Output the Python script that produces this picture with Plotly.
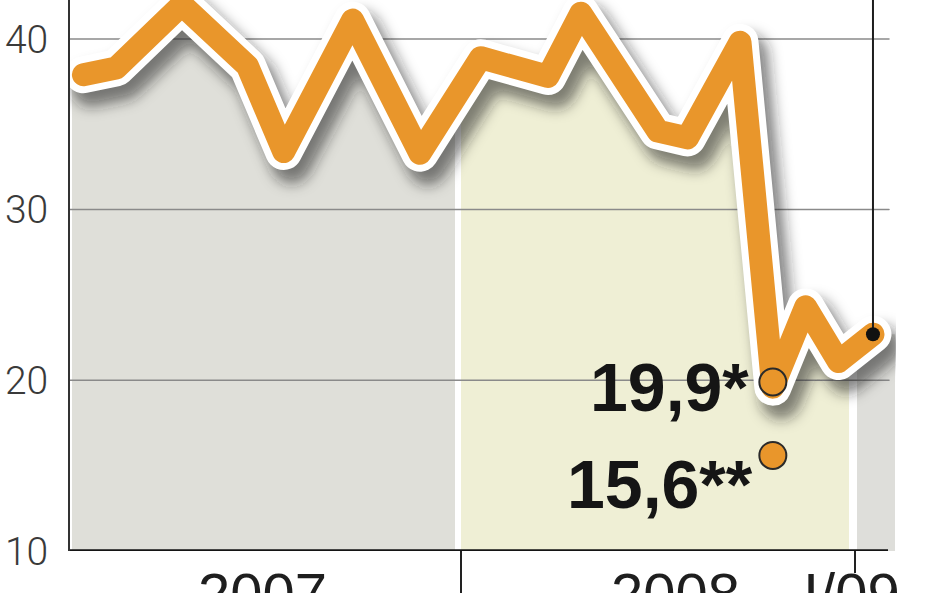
import numpy as np
import plotly.graph_objects as go

# ---- data ----
months = [0.5, 1.5, 3.5, 5.5, 6.6, 8.7, 10.75, 12.6, 14.65, 15.65, 18.0, 18.9, 20.5, 21.5, 22.5, 23.5, 24.55]
values = [37.9, 38.3, 42.0, 38.4, 33.4, 41.1, 33.3, 38.9, 37.8, 41.5, 34.6, 34.2, 39.8, 19.6, 24.3, 21.1, 22.7]
forecast_values = [19.9, 15.6]
forecast_labels = ["19,9*", "15,6**"]
year_labels = ["2007", "2008", "I/09"]
y_ticks = [10, 20, 30, 40]

# ---- geometry helpers (pixel -> axis units) ----
W, H = 948, 593
PL, PR, PT, PB = 70, 896, 0, 551
PX_PER_MONTH = 32.83
M0 = 67
PX_PER_UNIT = 17.07


def mx(px):
    return (px - M0) / PX_PER_MONTH


def vy(py):
    return 10 + (PB - py) / PX_PER_UNIT


x_range = [mx(PL), mx(PR)]
y_range = [10, vy(PT)]

ORANGE = "#E9962B"
xs = np.array(months)
ys = np.array(values)

fig = go.Figure()

# year area fills under the line
bounds = [(mx(72), mx(455)), (mx(461), mx(849)), (mx(857), mx(895))]
fill_colors = ["#DFDFD9", "#EFEFD5", "#DEDEDA"]
for (a, b), c in zip(bounds, fill_colors):
    inner = xs[(xs > a) & (xs < b)]
    fx = np.concatenate([[a], inner, [b]])
    fy = np.interp(fx, xs, ys)
    fig.add_trace(go.Scatter(x=fx, y=fy, fill="tozeroy", fillcolor=c, mode="none",
                             hoverinfo="skip", showlegend=False))

# gridlines
for v in y_ticks[1:]:
    fig.add_trace(go.Scatter(x=[mx(70), mx(889)], y=[v, v], mode="lines",
                             line=dict(color="#8a8a8a", width=1.5),
                             hoverinfo="skip", showlegend=False))

# shadow, white outline, orange line
fig.add_trace(go.Scatter(x=xs + 8 / PX_PER_MONTH, y=ys - 12 / PX_PER_UNIT, mode="lines",
                         line=dict(color="rgba(30,30,30,0.55)", width=40),
                         hoverinfo="skip", showlegend=False))
fig.add_trace(go.Scatter(x=xs, y=ys, mode="lines", line=dict(color="white", width=37),
                         hoverinfo="skip", showlegend=False))
fig.add_trace(go.Scatter(x=xs, y=ys, mode="lines", line=dict(color=ORANGE, width=23),
                         hoverinfo="skip", showlegend=False))

# leader line from the last point to top
fig.add_trace(go.Scatter(x=[xs[-1], xs[-1]], y=[ys[-1], y_range[1]], mode="lines",
                         line=dict(color="#1e1e1e", width=2),
                         hoverinfo="skip", showlegend=False))

# forecast circles
fx_pos = months[13]
fig.add_trace(go.Scatter(x=[fx_pos] * len(forecast_values), y=forecast_values, mode="markers",
                         marker=dict(size=27, color=ORANGE, line=dict(color="#2a2a2a", width=2)),
                         hoverinfo="skip", showlegend=False, cliponaxis=False))
# last point dot
fig.add_trace(go.Scatter(x=[xs[-1]], y=[ys[-1]], mode="markers",
                         marker=dict(size=14, color="#111111"),
                         hoverinfo="skip", showlegend=False))

# big labels
label_right_px = [751, 755]
label_base_px = [411, 508]
for txt, rpx, bpx in zip(forecast_labels, label_right_px, label_base_px):
    fig.add_annotation(x=mx(rpx), y=vy(bpx + 16), xref="x", yref="y", text="<b>" + txt + "</b>",
                       showarrow=False, xanchor="right", yanchor="bottom",
                       font=dict(family="Liberation Sans", size=68, color="#151515"))

# year labels
label_center_px = [262, 675, 851]
for txt, cpx in zip(year_labels, label_center_px):
    fig.add_annotation(x=mx(cpx), y=-(559 - PB) / PB, xref="x", yref="paper", text=txt,
                       showarrow=False, xanchor="center", yanchor="top",
                       font=dict(family="Liberation Sans", size=58, color="#1e1e1e"))

# axis baseline, separators, tick
fig.add_shape(type="line", xref="x", yref="y", x0=mx(70), x1=mx(888), y0=10, y1=10,
              line=dict(color="#141414", width=3.5), layer="above")
fig.add_shape(type="line", xref="x", yref="paper", x0=mx(461), x1=mx(461), y0=0, y1=-(H - PB + 5) / PB,
              line=dict(color="#222222", width=2), layer="above")
fig.add_shape(type="line", xref="x", yref="paper", x0=mx(855), x1=mx(855), y0=0, y1=-(573 - PB) / PB,
              line=dict(color="#222222", width=2), layer="above")

fig.update_layout(
    width=W, height=H,
    margin=dict(l=PL, r=W - PR, t=PT, b=H - PB, autoexpand=False),
    paper_bgcolor="white", plot_bgcolor="white",
    showlegend=False,
    xaxis=dict(range=x_range, showgrid=False, zeroline=False, showticklabels=False,
               showline=False, ticks=""),
    yaxis=dict(range=y_range, showgrid=False, zeroline=False, tickvals=y_ticks,
               ticktext=[str(t) for t in y_ticks], ticks="", showline=True,
               linecolor="#333333", linewidth=2, ticklabelstandoff=12,
               tickfont=dict(family="Roboto", size=39, color="#3a3a3a", weight=300)),
)

post = """
document.body.style.margin='0';
document.body.style.padding='0';
document.body.style.overflow='hidden';
var gd = document.getElementById('{plot_id}');
function fxs(){
  var ns='http://www.w3.org/2000/svg';
  var svg = gd.querySelector('svg.main-svg');
  var defs = svg.querySelector('defs');
  if(!document.getElementById('shblur')){
    var f=document.createElementNS(ns,'filter'); f.setAttribute('id','shblur');
    f.setAttribute('filterUnits','userSpaceOnUse');
    f.setAttribute('x','-200'); f.setAttribute('y','-200');
    f.setAttribute('width','2000'); f.setAttribute('height','2000');
    var b=document.createElementNS(ns,'feGaussianBlur'); b.setAttribute('stdDeviation','7');
    f.appendChild(b); defs.appendChild(f);
  }
  var traces = gd.querySelectorAll('.scatterlayer .trace');
  traces.forEach(function(t,i){
    t.querySelectorAll('path.js-line').forEach(function(p){
      p.style.strokeLinejoin='round'; p.style.strokeLinecap='round';
      if(i===6){ p.setAttribute('filter','url(#shblur)'); }
    });
  });
}
fxs();
"""

fig.write_html("out.html", post_script=post, config={"displayModeBar": False, "staticPlot": True})
